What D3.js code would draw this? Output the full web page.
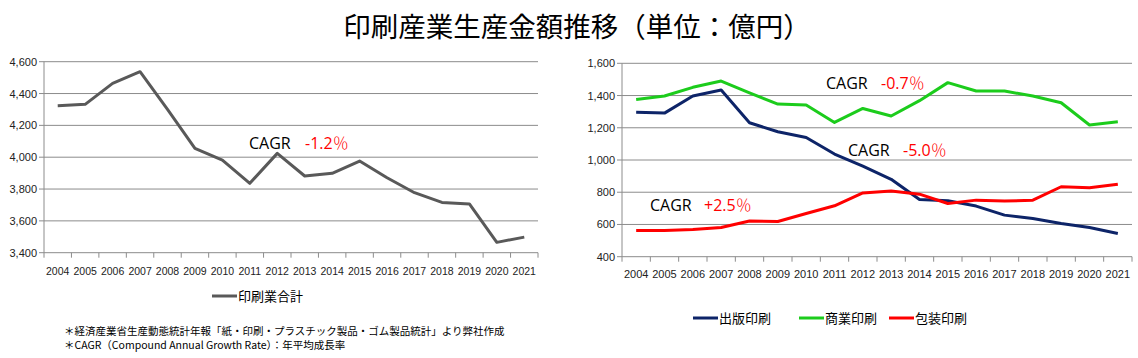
<!DOCTYPE html>
<html>
<head>
<meta charset="utf-8">
<script src="https://cdn.jsdelivr.net/npm/d3@7"></script>
<style>
  body { margin: 0; background: #fff; }
  svg { display: block; }
</style>
</head>
<body>
<div id="chart"></div>
<script>
// data
const years = ["2004","2005","2006","2007","2008","2009","2010","2011","2012","2013","2014","2015","2016","2017","2018","2019","2020","2021"];
const totalPrint = [4324, 4332, 4464, 4537, 4300, 4056, 3982, 3836, 4024, 3882, 3899, 3976, 3871, 3777, 3716, 3706, 3465, 3498];
const publishPrint = [1296, 1291, 1397, 1434, 1231, 1175, 1140, 1037, 962, 880, 755, 747, 714, 658, 637, 606, 581, 544];
const commercialPrint = [1376, 1397, 1451, 1490, 1417, 1347, 1341, 1233, 1320, 1273, 1368, 1480, 1428, 1428, 1397, 1355, 1217, 1237];
const packagePrint = [563, 563, 569, 581, 622, 618, 668, 716, 796, 807, 788, 730, 751, 745, 751, 834, 828, 850];
const leftTicks = [3400, 3600, 3800, 4000, 4200, 4400, 4600];
const rightTicks = [400, 600, 800, 1000, 1200, 1400, 1600];

const W = 1138, H = 358;
const svg = d3.select("#chart").append("svg")
    .attr("width", W)
    .attr("height", H)
    .style("font-family", "'Liberation Sans', sans-serif");

const jp = "'Noto Sans CJK JP', sans-serif";
const fmt = d3.format(",");

// title
svg.append("text")
    .attr("x", 577)
    .attr("y", 37)
    .attr("text-anchor", "middle")
    .style("font-family", jp)
    .style("font-size", "27.5px")
    .text("印刷産業生産金額推移（単位：億円）");

function drawPanel(opts) {
    const x = d3.scaleBand().domain(years).range([opts.left, opts.right]);
    const y = d3.scaleLinear().domain([opts.ticks[0], opts.ticks[opts.ticks.length - 1]]).range([opts.bottom, opts.top]);
    const g = svg.append("g");

    // gridlines + y labels
    g.append("g").selectAll("line").data(opts.ticks).join("line")
        .attr("x1", opts.left - 5).attr("x2", opts.right)
        .attr("y1", d => y(d)).attr("y2", d => y(d))
        .attr("stroke", "#8c8c8c").attr("stroke-width", 1);
    g.append("g").selectAll("text").data(opts.ticks).join("text")
        .attr("x", opts.left - 7).attr("y", d => y(d) + 4)
        .attr("text-anchor", "end")
        .style("font-size", "11px")
        .attr("fill", "#222")
        .text(d => fmt(d));

    // y axis line
    g.append("line")
        .attr("x1", opts.left).attr("x2", opts.left)
        .attr("y1", opts.top).attr("y2", opts.bottom)
        .attr("stroke", "#8c8c8c");

    // x ticks
    const edges = years.map(d => x(d)).concat([opts.right]);
    g.append("g").selectAll("line").data(edges).join("line")
        .attr("x1", d => d).attr("x2", d => d)
        .attr("y1", opts.bottom).attr("y2", opts.bottom + 5)
        .attr("stroke", "#8c8c8c");
    g.append("g").selectAll("text").data(years).join("text")
        .attr("x", d => x(d) + x.bandwidth() / 2)
        .attr("y", opts.bottom + opts.labelGap)
        .attr("text-anchor", "middle")
        .style("font-size", opts.xFont)
        .attr("fill", "#222")
        .text(d => d);

    const line = d3.line()
        .x((d, i) => x(years[i]) + x.bandwidth() / 2)
        .y(d => y(d));

    opts.series.forEach(s => {
        g.append("path")
            .datum(s.values)
            .attr("d", line)
            .attr("fill", "none")
            .attr("stroke", s.color)
            .attr("stroke-width", 3)
            .attr("stroke-linejoin", "round");
    });
}

drawPanel({
    left: 44, right: 538, top: 61.7, bottom: 252.7,
    ticks: leftTicks, labelGap: 22, xFont: "10.5px",
    series: [{ values: totalPrint, color: "#595959" }]
});

drawPanel({
    left: 622, right: 1132, top: 63.3, bottom: 256.7,
    ticks: rightTicks, labelGap: 21, xFont: "11px",
    series: [
        { values: commercialPrint, color: "#1ccc1c" },
        { values: publishPrint, color: "#0d2468" },
        { values: packagePrint, color: "#ff0000" }
    ]
});

// CAGR annotations
const cagr = [
    { x: 249, y: 149, label: "CAGR", val: "-1.2", vx: 305 },
    { x: 826, y: 89, label: "CAGR", val: "-0.7", vx: 881 },
    { x: 848, y: 156, label: "CAGR", val: "-5.0", vx: 903 },
    { x: 650, y: 211, label: "CAGR", val: "+2.5", vx: 704 }
];
cagr.forEach(c => {
    svg.append("text").attr("x", c.x).attr("y", c.y)
        .style("font-size", "16px").attr("fill", "#000")
        .style("font-family", "'Open Sans', sans-serif")
        .text(c.label);
    const t = svg.append("text").attr("x", c.vx).attr("y", c.y)
        .style("font-size", "16px").attr("fill", "#ff0000")
        .style("font-family", "'Open Sans', sans-serif");
    t.append("tspan").text(c.val);
    t.append("tspan").style("font-family", jp).style("font-weight", 300).text("％");
});

// legends
function legendItem(x0, yy, color, label) {
    svg.append("line").attr("x1", x0).attr("x2", x0 + 25)
        .attr("y1", yy).attr("y2", yy)
        .attr("stroke", color).attr("stroke-width", 3);
    svg.append("text").attr("x", x0 + 26).attr("y", yy + 5)
        .style("font-family", jp).style("font-size", "13px")
        .text(label);
}
legendItem(212, 296, "#595959", "印刷業合計");
legendItem(693, 318, "#0d2468", "出版印刷");
legendItem(799, 318, "#1ccc1c", "商業印刷");
legendItem(889, 318, "#ff0000", "包装印刷");

// footnotes
const notes = [
    "＊経済産業省生産動態統計年報「紙・印刷・プラスチック製品・ゴム製品統計」より弊社作成",
    "＊CAGR（Compound Annual Growth Rate）：年平均成長率"
];
svg.append("g").selectAll("text").data(notes).join("text")
    .attr("x", 64).attr("y", (d, i) => 335 + i * 14)
    .style("font-family", jp).style("font-size", "10.5px")
    .text(d => d);
</script>
</body>
</html>
